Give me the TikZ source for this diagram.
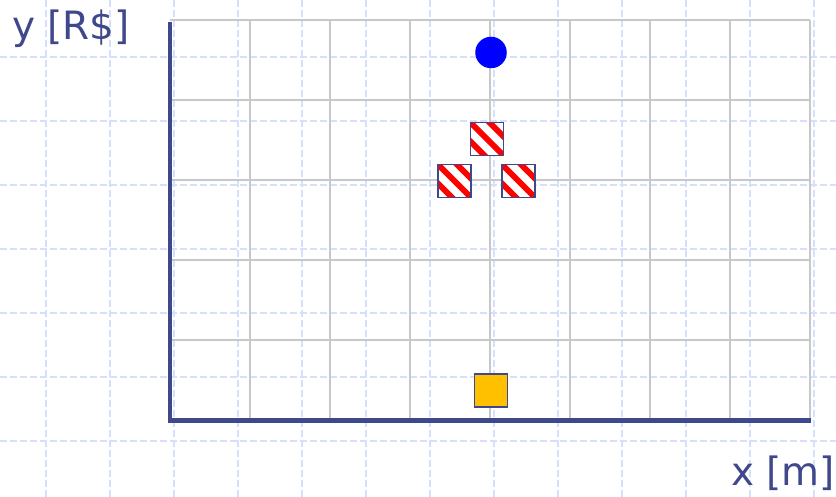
\documentclass[tikz,border=0pt]{standalone}
\usepackage{fontspec}
\setmainfont{DejaVu Sans}
\definecolor{axisblue}{RGB}{64,72,140}
\definecolor{bggrid}{RGB}{214,224,252}
\definecolor{gridgray}{RGB}{200,200,200}
\definecolor{gold}{RGB}{255,192,0}
\begin{document}
\begin{tikzpicture}[x=1pt,y=-1pt,
  bgline/.style={draw=bggrid, line width=1.1, dash pattern=on 7pt off 3pt},
  gridline/.style={draw=gridgray, line width=1.6},
  axisline/.style={draw=axisblue, line width=4.5, line join=miter},
  dot/.style={circle, fill=blue, draw=none, minimum size=31.5, inner sep=0},
  striped/.style={rectangle, minimum size=33, inner sep=0, draw=axisblue, line width=1.5, fill=white,
    path picture={\foreach \c in {-38,-19,0,19,38}
      \draw[red, line width=6] ([shift={(-30,-30+\c)}]path picture bounding box.center) -- ++(60,60);}},
  goldbox/.style={rectangle, minimum size=33, inner sep=0, draw=axisblue, line width=1.5, fill=gold},
  lbl/.style={text=axisblue, font=\fontsize{39}{44}\selectfont, inner sep=0, anchor=base west}
]
\useasboundingbox (0,0) rectangle (836,497);
\fill[white] (0,0) rectangle (836,497);
\foreach \x in {46,110,...,814} \draw[bgline] (\x,0) -- (\x,497);
\foreach \y in {57,121,...,441} \draw[bgline] (0,\y) -- (836,\y);
\foreach \x in {250,330,...,810} \draw[gridline] (\x,20) -- (\x,420);
\foreach \y in {20,100,...,340} \draw[gridline] (170,\y) -- (810,\y);
\coordinate (O) at (170,420.5);
\coordinate (ytop) at (170,22);
\coordinate (xend) at (811,420.5);
\draw[axisline] (ytop) -- (O) -- (xend);
\node[dot] (circ) at (491,52.5) {};
\node[striped] (s1) at (487,139) {};
\node[striped] (s2) at (454.5,181) {};
\node[striped] (s3) at (518.5,181) {};
\node[goldbox] (sq) at (491,390.5) {};
\node[lbl] (ylab) at (12,40) {y [R\$]};
\node[lbl] (xlab) at (731,485) {x [m]};
\end{tikzpicture}
\end{document}
